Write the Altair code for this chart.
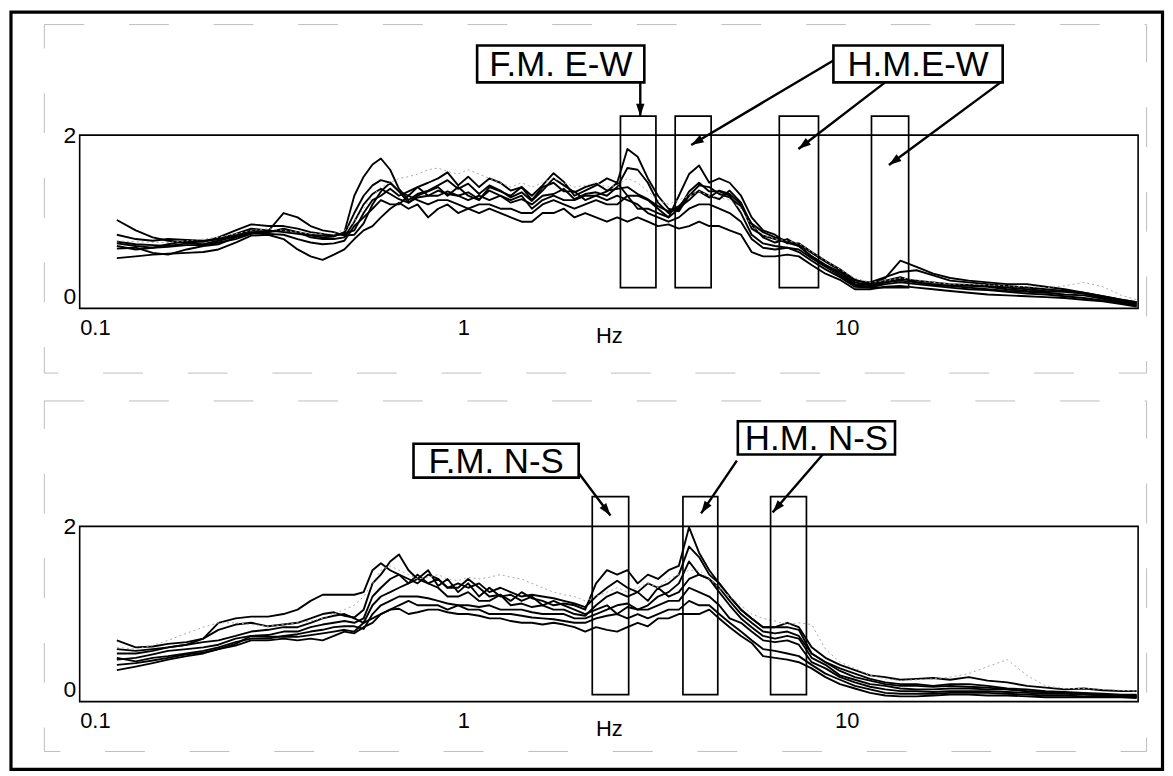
import math
import altair as alt
import pandas as pd

# ---------------- data ----------------
FREQ = [
    0.125, 0.14, 0.155, 0.17, 0.19, 0.21, 0.23, 0.255, 0.28, 0.31,
    0.34, 0.37, 0.4, 0.43, 0.46, 0.49, 0.52, 0.55, 0.58, 0.61,
    0.645, 0.68, 0.72, 0.76, 0.81, 0.86, 0.91, 0.97, 1.03, 1.1,
    1.17, 1.25, 1.33, 1.42, 1.51, 1.61, 1.72, 1.83, 1.95, 2.08,
    2.22, 2.37, 2.52, 2.68, 2.85, 3.03, 3.22, 3.43, 3.65, 3.88,
    4.12, 4.38, 4.65, 4.95, 5.3, 5.65, 6.05, 6.5, 7.0, 7.5,
    8.1, 8.8, 9.6, 10.5, 11.5, 12.6, 13.8, 15.2, 16.8, 18.6,
    20.8, 23.3, 26.2, 29.5, 33, 37, 41.5, 46.5, 52, 57,
]

# East-West component (upper panel)
EW_1 = [
    0.75, 0.72, 0.70, 0.74, 0.78, 0.77, 0.80, 0.86, 0.92, 0.90,
    0.88, 0.86, 0.84, 0.82, 0.83, 0.88, 1.30, 1.52, 1.66, 1.73,
    1.60, 1.38, 1.25, 1.32, 1.36, 1.42, 1.48, 1.38, 1.44, 1.32,
    1.42, 1.36, 1.28, 1.34, 1.24, 1.36, 1.50, 1.42, 1.34, 1.40,
    1.44, 1.36, 1.38, 1.40, 1.32, 1.26, 1.18, 1.12, 1.18, 1.30,
    1.35, 1.28, 1.36, 1.32, 1.20, 0.92, 0.84, 0.80, 0.76, 0.72,
    0.60, 0.50, 0.42, 0.30, 0.27, 0.30, 0.34, 0.32, 0.30, 0.28,
    0.27, 0.26, 0.24, 0.22, 0.20, 0.19, 0.17, 0.13, 0.09, 0.06,
]
EW_2 = [
    0.85, 0.80, 0.78, 0.80, 0.79, 0.78, 0.80, 0.84, 0.90, 0.88,
    0.90, 0.88, 0.85, 0.84, 0.84, 0.86, 1.10, 1.30, 1.42, 1.48,
    1.45, 1.35, 1.30, 1.40, 1.45, 1.50, 1.57, 1.42, 1.52, 1.40,
    1.50, 1.45, 1.36, 1.40, 1.30, 1.42, 1.56, 1.46, 1.30, 1.36,
    1.42, 1.50, 1.45, 1.84, 1.75, 1.50, 1.30, 1.15, 1.12, 1.30,
    1.42, 1.40, 1.32, 1.28, 1.18, 0.98, 0.88, 0.82, 0.78, 0.74,
    0.64, 0.54, 0.44, 0.32, 0.30, 0.36, 0.42, 0.44, 0.38, 0.32,
    0.30, 0.28, 0.26, 0.24, 0.22, 0.20, 0.18, 0.14, 0.10, 0.07,
]
EW_3 = [
    0.77, 0.74, 0.73, 0.72, 0.75, 0.74, 0.78, 0.83, 0.88, 0.88,
    0.92, 0.88, 0.82, 0.80, 0.80, 0.82, 1.00, 1.20, 1.32, 1.38,
    1.32, 1.26, 1.22, 1.28, 1.30, 1.36, 1.32, 1.30, 1.34, 1.26,
    1.36, 1.30, 1.22, 1.26, 1.20, 1.30, 1.32, 1.38, 1.26, 1.32,
    1.34, 1.30, 1.40, 1.62, 1.60, 1.45, 1.22, 1.10, 1.16, 1.25,
    1.36, 1.30, 1.26, 1.36, 1.22, 0.96, 0.82, 0.76, 0.80, 0.72,
    0.60, 0.50, 0.40, 0.28, 0.27, 0.32, 0.36, 0.30, 0.28, 0.26,
    0.26, 0.25, 0.22, 0.20, 0.19, 0.20, 0.17, 0.12, 0.08, 0.05,
]
EW_4 = [
    0.69, 0.70, 0.64, 0.62, 0.68, 0.72, 0.74, 0.82, 0.87, 0.86,
    0.85, 0.80, 0.76, 0.74, 0.75, 0.78, 0.95, 1.05, 1.15, 1.25,
    1.20, 1.20, 1.30, 1.25, 1.20, 1.25, 1.25, 1.20, 1.15, 1.20,
    1.20, 1.15, 1.15, 1.10, 1.10, 1.20, 1.25, 1.20, 1.15, 1.20,
    1.25, 1.20, 1.20, 1.30, 1.30, 1.25, 1.15, 1.05, 1.30, 1.55,
    1.65, 1.45, 1.50, 1.45, 1.30, 1.05, 0.90, 0.85, 0.75, 0.75,
    0.65, 0.55, 0.45, 0.33, 0.28, 0.35, 0.55, 0.48, 0.40, 0.35,
    0.32, 0.30, 0.28, 0.28, 0.25, 0.22, 0.18, 0.14, 0.10, 0.07,
]
EW_5 = [
    0.58, 0.60, 0.62, 0.63, 0.64, 0.65, 0.68, 0.76, 0.84, 0.85,
    0.80, 0.68, 0.60, 0.56, 0.62, 0.68, 0.80, 0.90, 0.95, 1.05,
    1.15, 1.22, 1.15, 1.20, 1.05, 1.15, 1.20, 1.10, 1.15, 1.10,
    1.15, 1.10, 1.05, 1.00, 1.00, 1.10, 1.10, 1.15, 1.05, 1.10,
    1.05, 1.00, 1.05, 1.00, 1.05, 1.00, 0.95, 0.97, 0.92, 0.95,
    1.00, 0.95, 0.95, 0.90, 0.85, 0.65, 0.60, 0.60, 0.62, 0.60,
    0.50, 0.40, 0.33, 0.22, 0.22, 0.25, 0.26, 0.24, 0.22, 0.20,
    0.18, 0.16, 0.15, 0.14, 0.13, 0.12, 0.10, 0.08, 0.05, 0.02,
]
EW_6 = [
    0.72, 0.68, 0.70, 0.71, 0.73, 0.73, 0.76, 0.80, 0.86, 0.89,
    1.10, 1.05, 0.95, 0.90, 0.88, 0.84, 0.85, 0.98, 1.20, 1.35,
    1.45, 1.35, 1.22, 1.30, 1.35, 1.40, 1.30, 1.40, 1.30, 1.25,
    1.40, 1.35, 1.30, 1.40, 1.25, 1.40, 1.45, 1.35, 1.35, 1.25,
    1.30, 1.35, 1.45, 1.30, 1.15, 1.15, 1.10, 1.05, 1.15, 1.35,
    1.45, 1.35, 1.35, 1.30, 1.10, 0.85, 0.75, 0.72, 0.70, 0.68,
    0.58, 0.48, 0.38, 0.27, 0.25, 0.30, 0.32, 0.30, 0.27, 0.26,
    0.24, 0.22, 0.20, 0.19, 0.18, 0.16, 0.15, 0.11, 0.07, 0.04,
]
EW_7 = [
    1.02, 0.90, 0.82, 0.78, 0.76, 0.77, 0.82, 0.90, 0.97, 0.95,
    0.95, 0.92, 0.88, 0.86, 0.84, 0.86, 0.90, 1.10, 1.25, 1.30,
    1.38, 1.30, 1.35, 1.40, 1.30, 1.30, 1.35, 1.30, 1.25, 1.30,
    1.25, 1.30, 1.25, 1.30, 1.15, 1.25, 1.30, 1.25, 1.25, 1.30,
    1.30, 1.25, 1.30, 1.25, 1.20, 1.10, 1.05, 1.00, 1.05, 1.15,
    1.20, 1.20, 1.15, 1.10, 1.00, 0.80, 0.70, 0.68, 0.70, 0.65,
    0.55, 0.45, 0.36, 0.25, 0.24, 0.28, 0.30, 0.28, 0.26, 0.24,
    0.22, 0.21, 0.19, 0.17, 0.16, 0.14, 0.12, 0.09, 0.06, 0.03,
]
EW_GRAY = [
    0.78, 0.77, 0.76, 0.76, 0.78, 0.80, 0.82, 0.86, 0.90, 0.92,
    0.90, 0.88, 0.86, 0.86, 0.88, 0.90, 1.00, 1.15, 1.30, 1.40,
    1.45, 1.50, 1.52, 1.55, 1.60, 1.62, 1.58, 1.55, 1.60, 1.55,
    1.50, 1.45, 1.40, 1.45, 1.40, 1.45, 1.50, 1.45, 1.40, 1.42,
    1.45, 1.40, 1.42, 1.50, 1.45, 1.35, 1.25, 1.20, 1.25, 1.30,
    1.35, 1.30, 1.28, 1.25, 1.15, 0.95, 0.85, 0.80, 0.78, 0.75,
    0.65, 0.55, 0.45, 0.35, 0.30, 0.32, 0.35, 0.33, 0.30, 0.28,
    0.28, 0.27, 0.26, 0.25, 0.24, 0.26, 0.30, 0.25, 0.15, 0.10,
]

# North-South component (lower panel)
NS_1 = [
    0.70, 0.62, 0.63, 0.66, 0.68, 0.72, 0.82, 0.88, 0.90, 0.86,
    0.88, 0.90, 0.95, 1.00, 1.02, 0.98, 0.96, 1.05, 1.35, 1.45,
    1.60, 1.68, 1.50, 1.40, 1.50, 1.32, 1.40, 1.25, 1.35, 1.20,
    1.30, 1.20, 1.22, 1.15, 1.20, 1.10, 1.15, 1.10, 1.05, 1.00,
    1.05, 1.10, 1.00, 1.08, 1.05, 1.10, 1.20, 1.25, 1.35, 1.60,
    1.45, 1.40, 1.30, 1.15, 1.00, 0.90, 0.80, 0.78, 0.80, 0.75,
    0.55, 0.45, 0.38, 0.32, 0.26, 0.22, 0.20, 0.20, 0.18, 0.20,
    0.20, 0.18, 0.15, 0.14, 0.12, 0.11, 0.10, 0.09, 0.08, 0.08,
]
NS_2 = [
    0.60, 0.58, 0.60, 0.62, 0.65, 0.72, 0.90, 0.95, 0.97, 0.97,
    1.00, 1.05, 1.15, 1.22, 1.22, 1.22, 1.22, 1.25, 1.50, 1.58,
    1.50, 1.45, 1.35, 1.45, 1.35, 1.40, 1.30, 1.35, 1.30, 1.35,
    1.25, 1.30, 1.25, 1.20, 1.22, 1.20, 1.18, 1.15, 1.12, 1.08,
    1.20, 1.30, 1.38, 1.30, 1.25, 1.35, 1.30, 1.35, 1.45, 1.77,
    1.65, 1.45, 1.35, 1.20, 1.05, 0.95, 0.85, 0.85, 0.90, 0.85,
    0.62, 0.50, 0.42, 0.36, 0.30, 0.28, 0.25, 0.26, 0.27, 0.25,
    0.28, 0.24, 0.22, 0.18, 0.16, 0.14, 0.15, 0.13, 0.12, 0.12,
]
NS_3 = [
    0.48, 0.50, 0.54, 0.58, 0.60, 0.62, 0.65, 0.72, 0.75, 0.76,
    0.80, 0.80, 0.85, 0.88, 0.90, 0.92, 0.90, 0.95, 1.20, 1.30,
    1.40, 1.45, 1.40, 1.35, 1.45, 1.40, 1.30, 1.30, 1.40, 1.30,
    1.20, 1.22, 1.15, 1.25, 1.18, 1.15, 1.10, 1.12, 1.10, 1.05,
    1.35, 1.50, 1.45, 1.50, 1.35, 1.45, 1.40, 1.50, 1.55, 1.99,
    1.70, 1.50, 1.35, 1.20, 1.05, 0.95, 0.85, 0.85, 0.85, 0.82,
    0.55, 0.45, 0.35, 0.28, 0.24, 0.20, 0.18, 0.18, 0.17, 0.18,
    0.17, 0.16, 0.14, 0.12, 0.11, 0.10, 0.09, 0.08, 0.07, 0.07,
]
NS_4 = [
    0.55, 0.55, 0.58, 0.62, 0.65, 0.68, 0.70, 0.75, 0.80, 0.82,
    0.85, 0.85, 0.90, 0.95, 0.98, 1.00, 0.95, 0.90, 1.10, 1.20,
    1.25, 1.30, 1.35, 1.40, 1.35, 1.30, 1.20, 1.20, 1.25, 1.15,
    1.15, 1.22, 1.10, 1.12, 1.08, 1.10, 1.05, 1.05, 1.00, 0.98,
    1.10, 1.20, 1.25, 1.20, 1.25, 1.15, 1.30, 1.20, 1.25, 1.40,
    1.45, 1.40, 1.25, 1.10, 0.95, 0.85, 0.75, 0.72, 0.75, 0.72,
    0.50, 0.42, 0.30, 0.25, 0.20, 0.18, 0.15, 0.14, 0.14, 0.15,
    0.15, 0.14, 0.14, 0.12, 0.11, 0.10, 0.09, 0.08, 0.07, 0.06,
]
NS_5 = [
    0.50, 0.46, 0.50, 0.52, 0.55, 0.58, 0.62, 0.68, 0.72, 0.72,
    0.75, 0.77, 0.80, 0.82, 0.85, 0.86, 0.86, 0.83, 1.00, 1.10,
    1.15, 1.20, 1.20, 1.20, 1.18, 1.15, 1.12, 1.10, 1.10, 1.08,
    1.10, 1.05, 1.05, 1.05, 1.02, 1.00, 1.00, 1.00, 0.95, 0.95,
    1.00, 1.05, 1.10, 1.12, 1.05, 1.05, 1.10, 1.15, 1.15, 1.30,
    1.25, 1.20, 1.10, 0.95, 0.90, 0.80, 0.70, 0.68, 0.70, 0.65,
    0.45, 0.38, 0.28, 0.22, 0.17, 0.14, 0.12, 0.12, 0.11, 0.12,
    0.12, 0.12, 0.11, 0.10, 0.09, 0.09, 0.08, 0.07, 0.07, 0.06,
]
NS_6 = [
    0.36, 0.40, 0.44, 0.48, 0.52, 0.55, 0.60, 0.64, 0.70, 0.70,
    0.72, 0.70, 0.72, 0.70, 0.75, 0.80, 0.78, 0.85, 0.90, 1.00,
    1.05, 1.06, 1.00, 1.02, 1.05, 1.05, 1.02, 1.00, 1.00, 0.98,
    0.95, 0.95, 0.92, 0.90, 0.90, 0.88, 0.90, 0.88, 0.85, 0.80,
    0.85, 0.82, 0.80, 0.85, 0.90, 0.86, 0.95, 0.95, 1.00, 1.00,
    1.00, 1.05, 0.95, 0.85, 0.75, 0.67, 0.52, 0.50, 0.48, 0.45,
    0.38, 0.28, 0.20, 0.15, 0.10, 0.07, 0.06, 0.06, 0.07, 0.08,
    0.08, 0.07, 0.07, 0.06, 0.05, 0.05, 0.05, 0.05, 0.05, 0.04,
]
NS_7 = [
    0.42, 0.44, 0.47, 0.50, 0.54, 0.56, 0.60, 0.66, 0.75, 0.74,
    0.74, 0.74, 0.76, 0.78, 0.80, 0.82, 0.80, 0.90, 0.95, 1.00,
    1.05, 1.10, 1.15, 1.10, 1.10, 1.10, 1.05, 1.10, 1.05, 1.05,
    1.00, 1.00, 1.00, 0.98, 0.96, 0.95, 0.94, 0.92, 0.90, 0.90,
    0.95, 0.98, 1.00, 0.95, 1.00, 0.95, 1.00, 1.05, 1.05, 1.15,
    1.10, 1.10, 1.00, 0.90, 0.80, 0.70, 0.60, 0.58, 0.55, 0.52,
    0.42, 0.32, 0.25, 0.18, 0.14, 0.10, 0.09, 0.09, 0.09, 0.10,
    0.10, 0.10, 0.09, 0.08, 0.07, 0.07, 0.06, 0.06, 0.06, 0.05,
]
NS_GRAY = [
    0.62, 0.60, 0.64, 0.70, 0.78, 0.85, 0.90, 0.90, 0.88, 0.86,
    0.88, 0.90, 0.92, 0.95, 1.00, 1.05, 1.10, 1.20, 1.35, 1.50,
    1.55, 1.50, 1.45, 1.40, 1.42, 1.45, 1.40, 1.38, 1.42, 1.40,
    1.42, 1.45, 1.42, 1.40, 1.35, 1.30, 1.25, 1.22, 1.20, 1.15,
    1.20, 1.25, 1.30, 1.25, 1.30, 1.35, 1.30, 1.40, 1.45, 1.50,
    1.50, 1.40, 1.30, 1.20, 1.10, 1.00, 0.95, 0.92, 0.88, 0.90,
    0.88, 0.60, 0.45, 0.38, 0.30, 0.26, 0.24, 0.25, 0.26, 0.28,
    0.32, 0.40, 0.48, 0.30, 0.18, 0.15, 0.15, 0.14, 0.13, 0.12,
]

EW_CURVES = {"ew1": EW_1, "ew2": EW_2, "ew3": EW_3, "ew4": EW_4,
             "ew5": EW_5, "ew6": EW_6, "ew7": EW_7}
NS_CURVES = {"ns1": NS_1, "ns2": NS_2, "ns3": NS_3, "ns4": NS_4,
             "ns5": NS_5, "ns6": NS_6, "ns7": NS_7}

# frequency windows (Hz) marked by the rectangles
EW_WIN_LO = [2.57, 3.57, 6.67, 11.6]
EW_WIN_HI = [3.18, 4.43, 8.44, 14.5]
EW_WIN_TOP = 2.22
EW_WIN_BOT = 0.24
NS_WIN_LO = [2.17, 3.74, 6.33]
NS_WIN_HI = [2.70, 4.61, 7.85]
NS_WIN_TOP = 2.34
NS_WIN_BOT = 0.08

# label boxes: text, f_lo, f_hi, y_lo, y_hi
EW_LABELS = ["F.M. E-W", "H.M.E-W"]
EW_LAB_FLO = [1.087, 9.23]
EW_LAB_FHI = [2.966, 25.5]
EW_LAB_YLO = [2.609, 2.609]
EW_LAB_YHI = [3.034, 3.034]
NS_LABELS = ["F.M. N-S", "H.M. N-S"]
NS_LAB_FLO = [0.742, 5.2]
NS_LAB_FHI = [2.0, 13.36]
NS_LAB_YLO = [2.557, 2.82]
NS_LAB_YHI = [2.943, 3.2]

# arrows: (f_start, y_start) -> (f_end, y_end)
EW_ARR_F1 = [2.895, 9.23, 12.59, 25.2]
EW_ARR_Y1 = [2.609, 2.862, 2.609, 2.609]
EW_ARR_F2 = [2.895, 3.93, 7.48, 12.88]
EW_ARR_Y2 = [2.218, 1.885, 1.839, 1.655]
NS_ARR_F1 = [2.0, 5.17, 8.69]
NS_ARR_Y1 = [2.61, 2.75, 2.83]
NS_ARR_F2 = [2.42, 4.17, 6.41]
NS_ARR_Y2 = [2.125, 2.148, 2.16]

XTICKS = [0.1, 1, 10]
YTICKS = [0, 1, 2]

for name, arr in list(EW_CURVES.items()) + list(NS_CURVES.items()) + [("ewg", EW_GRAY), ("nsg", NS_GRAY)]:
    assert len(arr) == len(FREQ), (name, len(arr))

# ---------------- layout constants ----------------
W = 1063
H_TOP = 174
H_BOT = 176
XDOM = [0.1, 57.5]
FONT = "Liberation Sans"
PX_DEC = W / (math.log10(XDOM[1]) - math.log10(XDOM[0]))


def long_df(curves):
    rows = []
    for name, vals in curves.items():
        for f, v in zip(FREQ, vals):
            rows.append({"f": f, "v": v, "c": name})
    return pd.DataFrame(rows)


def arrow_df(f1, y1, f2, y2, ppu):
    rows = []
    for a, b, c, d in zip(f1, y1, f2, y2):
        dx = PX_DEC * (math.log10(c) - math.log10(a))
        dy = -ppu * (d - b)
        ang = math.degrees(math.atan2(dx, -dy)) % 360
        rows.append({"f1": a, "y1": b, "f2": c, "y2": d, "ang": ang})
    return pd.DataFrame(rows)


def panel(curves, gray, wlo, whi, wtop, wbot, labels, lflo, lfhi, lylo, lyhi,
          af1, ay1, af2, ay2, height, area_top, area_bot, frame=False):
    x = alt.X("f:Q", scale=alt.Scale(type="log", domain=XDOM, nice=False),
              axis=alt.Axis(values=XTICKS, format="~g", title="Hz", ticks=False,
                            domain=False, grid=False, labelFont=FONT, labelFontSize=22,
                            labelColor="black", labelPadding=9, titleFont=FONT,
                            titleFontSize=22, titleFontWeight="normal", titleColor="black",
                            titleBaseline="top", titleY=17))
    y = alt.Y("v:Q", scale=alt.Scale(domain=[0, 2], nice=False, zero=False),
              axis=alt.Axis(values=YTICKS, format="d", title=None, ticks=False, domain=False,
                            grid=False, labelFont=FONT, labelFontSize=23,
                            labelColor="black", labelPadding=4,
                            labelBaseline={"condition": {"test": "datum.value == 0", "value": "bottom"},
                                           "value": "middle"}))
    base_lines = alt.Chart(long_df(curves)).mark_line(
        color="black", strokeWidth=1.9, strokeJoin="round").encode(
        x=x, y=y, detail="c:N")
    gray_line = alt.Chart(pd.DataFrame({"f": FREQ, "v": gray})).mark_line(
        color="#a8a8a8", strokeWidth=1, strokeDash=[2, 3]).encode(
        x=alt.X("f:Q"), y=alt.Y("v:Q"))

    win = pd.DataFrame({"lo": wlo, "hi": whi, "top": [wtop] * len(wlo), "bot": [wbot] * len(wlo)})
    windows = alt.Chart(win).mark_rect(fill=None, fillOpacity=0, stroke="black", strokeWidth=1.7).encode(
        x="lo:Q", x2="hi:Q", y="bot:Q", y2="top:Q")

    arr = arrow_df(af1, ay1, af2, ay2, height / 2)
    arrows = alt.Chart(arr).mark_rule(color="black", strokeWidth=2.4).encode(
        x="f1:Q", x2="f2:Q", y="y1:Q", y2="y2:Q")
    heads = alt.Chart(arr).mark_point(
        shape="M0,0L-0.8,2.4L0.8,2.4Z", filled=True, color="black", opacity=1, size=110).encode(
        x="f2:Q", y="y2:Q", angle=alt.Angle("ang:Q", scale=None))

    lab = pd.DataFrame({"t": labels, "lo": lflo, "hi": lfhi, "ylo": lylo, "yhi": lyhi})
    lab["fc"] = [math.sqrt(a * b) for a, b in zip(lflo, lfhi)]
    lab["yc"] = [(a + b) / 2 for a, b in zip(lylo, lyhi)]
    lab_box = alt.Chart(lab).mark_rect(fill="white", stroke="black", strokeWidth=2.6).encode(
        x="lo:Q", x2="hi:Q", y="ylo:Q", y2="yhi:Q")
    lab_txt = alt.Chart(lab).mark_text(font=FONT, fontSize=35, color="black",
                                        align="center", baseline="middle", dy=1).encode(
        x="fc:Q", y="yc:Q", text="t:N")

    one = pd.DataFrame({"k": [0]})
    area = alt.Chart(one).mark_rect(fill=None, fillOpacity=0, stroke="#bdbdbd", strokeWidth=1,
                                    strokeDash=[40, 45]).encode(
        x=alt.value(-35.5), x2=alt.value(1071.5), y=alt.value(area_top), y2=alt.value(area_bot))

    layers = [area, base_lines, gray_line, windows, arrows, heads, lab_box, lab_txt]
    if frame:
        outer = alt.Chart(one).mark_rect(fill=None, fillOpacity=0, stroke="black", strokeWidth=3.2).encode(
            x=alt.value(-69), x2=alt.value(1087.5), y=alt.value(-123.5), y2=alt.value(637))
        layers.append(outer)
    return alt.layer(*layers).properties(width=W, height=height)


top = panel(EW_CURVES, EW_GRAY, EW_WIN_LO, EW_WIN_HI, EW_WIN_TOP, EW_WIN_BOT,
            EW_LABELS, EW_LAB_FLO, EW_LAB_FHI, EW_LAB_YLO, EW_LAB_YHI,
            EW_ARR_F1, EW_ARR_Y1, EW_ARR_F2, EW_ARR_Y2, H_TOP, -111, 239, frame=True)
bottom = panel(NS_CURVES, NS_GRAY, NS_WIN_LO, NS_WIN_HI, NS_WIN_TOP, NS_WIN_BOT,
               NS_LABELS, NS_LAB_FLO, NS_LAB_FHI, NS_LAB_YLO, NS_LAB_YHI,
               NS_ARR_F1, NS_ARR_Y1, NS_ARR_F2, NS_ARR_Y2, H_BOT, -126, 226)

chart = alt.vconcat(top, bottom, spacing=219, bounds="flush").properties(
    padding=0, background="white"
).configure_view(stroke="black", strokeWidth=1.6)

chart.save("out.html", embed_options={"renderer": "svg", "actions": False})
